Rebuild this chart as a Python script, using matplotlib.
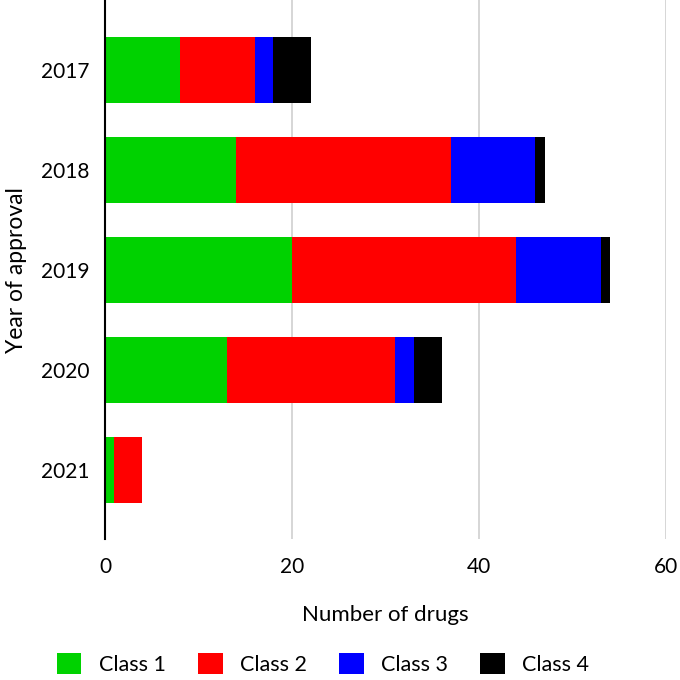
import numpy as np
import matplotlib.pyplot as plt

# Data
years = ['2017', '2018', '2019', '2020', '2021']
class1 = [8, 14, 20, 13, 1]
class2 = [8, 23, 24, 18, 3]
class3 = [2, 9, 9, 2, 0]
class4 = [4, 1, 1, 3, 0]

labels = ['Class 1', 'Class 2', 'Class 3', 'Class 4']
colors = ['#00D200', '#FF0000', '#0000FF', '#000000']

plt.rcParams['font.family'] = ['Lato', 'DejaVu Sans']

fig = plt.figure(figsize=(6.8, 6.8), dpi=100)
ax = fig.add_axes([0.1545, 0.207, 0.825, 0.793])

y = np.arange(len(years))
left = np.zeros(len(years))
for vals, lab, col in zip([class1, class2, class3, class4], labels, colors):
    ax.barh(y, vals, left=left, height=0.66, color=col, label=lab)
    left += np.array(vals)

ax.set_xlim(0, 60)
ax.set_ylim(4.69, -0.70)
ax.set_yticks(y)
ax.set_yticklabels(years)
ax.set_xticks([0, 20, 40, 60])
ax.tick_params(axis='both', length=0, labelsize=15, colors='#000000')
ax.tick_params(axis='x', pad=13)
ax.tick_params(axis='y', pad=11)

ax.grid(axis='x', color='#d0d0d0', linewidth=1.2)
ax.set_axisbelow(True)
for s in ['top', 'right', 'bottom']:
    ax.spines[s].set_visible(False)
ax.spines['left'].set_color('#000000')
ax.spines['left'].set_linewidth(1.5)

ax.set_xlabel('Number of drugs', fontsize=16, labelpad=20)
ax.set_ylabel('Year of approval', fontsize=16.5, labelpad=10)

handles, labs = ax.get_legend_handles_labels()
fig.legend(handles, labs, loc='center', bbox_to_anchor=(0.475, 0.024), ncol=4,
           frameon=False, fontsize=15.5, handlelength=1.15, handleheight=1.15,
           handletextpad=0.8, columnspacing=1.5)

fig.savefig('out.png', dpi=100)
